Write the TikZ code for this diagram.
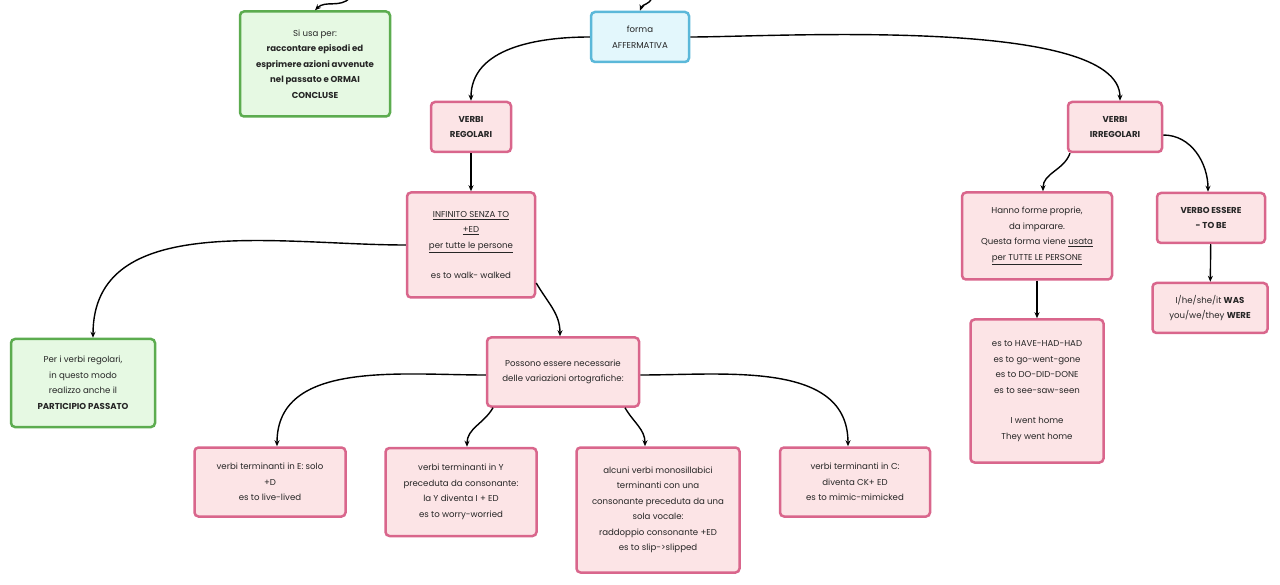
\documentclass[tikz,border=0pt]{standalone}
\usepackage{fontspec}
\setmainfont{Poppins}
\usetikzlibrary{arrows.meta}
\definecolor{pinkfill}{HTML}{FCE4E6}
\definecolor{pinkdraw}{HTML}{D9668C}
\definecolor{greenfill}{HTML}{E6F9E3}
\definecolor{greendraw}{HTML}{5CAC4F}
\definecolor{bluefill}{HTML}{E3F7FC}
\definecolor{bluedraw}{HTML}{5BB8D9}
\tikzstyle{box} = [rectangle, rounded corners=4pt, line width=2.5pt, align=center, inner sep=2pt, text=black!85, font=\fontsize{8.6}{15.5}\selectfont]
\tikzstyle{verbo} = [box, draw=pinkdraw, fill=pinkfill]
\tikzstyle{uso} = [box, draw=greendraw, fill=greenfill]
\tikzstyle{forma} = [box, draw=bluedraw, fill=bluefill]
\tikzstyle{arrow} = [line width=1.4pt, -{Stealth[length=6pt,width=5pt]}]

\begin{document}
\begin{tikzpicture}[x=1pt, y=-1pt]
\useasboundingbox (0,0) rectangle (1280,585);

\node (uso) [uso, minimum width=150pt, minimum height=105pt] at (315,64) {Si usa per:\\\textbf{raccontare episodi ed}\\\textbf{esprimere azioni avvenute}\\\textbf{nel passato e ORMAI}\\\textbf{CONCLUSE}};
\node (aff) [forma, minimum width=98pt, minimum height=50pt] at (640,37) {forma\\AFFERMATIVA};
\node (vreg) [verbo, minimum width=80pt, minimum height=50pt] at (471,127) {\textbf{VERBI}\\\textbf{REGOLARI}};
\node (virr) [verbo, minimum width=94pt, minimum height=50pt] at (1115,127) {\textbf{VERBI}\\\textbf{IRREGOLARI}};
\node (inf) [verbo, minimum width=128pt, minimum height=105pt] at (471,245) {\underline{INFINITO SENZA TO}\\\underline{+ED}\\\underline{per tutte le persone}\\[15pt]es to walk- walked};
\node (proprie) [verbo, minimum width=150pt, minimum height=87pt] at (1037,236) {Hanno forme proprie,\\da imparare.\\Questa forma viene \underline{usata}\\\underline{per TUTTE LE PERSONE}};
\node (essere) [verbo, minimum width=108pt, minimum height=50pt] at (1211,218) {\textbf{VERBO ESSERE}\\\textbf{- TO BE}};
\node (was) [verbo, minimum width=115pt, minimum height=50pt] at (1210,308) {I/he/she/it \textbf{WAS}\\you/we/they \textbf{WERE}};
\node (esirr) [verbo, minimum width=133pt, minimum height=143pt] at (1037,391) {es to HAVE-HAD-HAD\\es to go-went-gone\\es to DO-DID-DONE\\es to see-saw-seen\\[15pt]I went home\\They went home};
\node (part) [uso, minimum width=144pt, minimum height=88pt] at (83,383) {Per i verbi regolari,\\in questo modo\\realizzo anche il\\\textbf{PARTICIPIO PASSATO}};
\node (var) [verbo, minimum width=152pt, minimum height=69pt] at (563,372) {Possono essere necessarie\\delle variazioni ortografiche:};
\node (vare) [verbo, minimum width=151pt, minimum height=69pt] at (270,482) {verbi terminanti in E: solo\\+D\\es to live-lived};
\node (vary) [verbo, minimum width=151pt, minimum height=88pt] at (461,492) {verbi terminanti in Y\\preceduta da consonante:\\la Y diventa I + ED\\es to worry-worried};
\node (varmono) [verbo, minimum width=163pt, minimum height=125pt] at (658,510) {alcuni verbi monosillabici\\terminanti con una\\consonante preceduta da una\\sola vocale:\\raddoppio consonante +ED\\es to slip->slipped};
\node (varc) [verbo, minimum width=150pt, minimum height=69pt] at (855,482) {verbi terminanti in C:\\diventa CK+ ED\\es to mimic-mimicked};

\coordinate (inuso) at (350,-2);
\coordinate (inaff) at (652,-2);

\draw [arrow] (inuso) to[out=-135,in=45] (uso.north);
\draw [arrow] (inaff) to[out=-110,in=70] (aff.north);
\draw [arrow] (aff.west) to[out=180,in=90] (vreg.north);
\draw [arrow] (aff.east) to[out=0,in=90,looseness=0.5] ([xshift=5pt]virr.north);
\draw [arrow] (vreg) -- (inf);
\draw [arrow] ([xshift=-45pt]virr.south) to[out=-110,in=90] ([xshift=6pt]proprie.north);
\draw [arrow] ([yshift=-8pt]virr.east) to[out=0,in=90] ([xshift=-3pt]essere.north);
\draw [arrow] (essere) -- (was);
\draw [arrow] (proprie) -- (esirr);
\draw [arrow] (inf.west) to[out=180,in=90] ([xshift=10pt]part.north);
\draw [arrow] ([yshift=-38pt]inf.east) to[out=-60,in=90] ([xshift=-3pt]var.north);
\draw [arrow] ([yshift=-3pt]var.west) to[out=180,in=90] ([xshift=7pt]vare.north);
\draw [arrow] ([xshift=-70pt]var.south) to[out=-120,in=90] ([xshift=6pt]vary.north);
\draw [arrow] ([xshift=62pt]var.south) to[out=-60,in=90] ([xshift=-13pt]varmono.north);
\draw [arrow] ([yshift=-3pt]var.east) to[out=0,in=90] ([xshift=-7pt]varc.north);

\end{tikzpicture}
\end{document}
